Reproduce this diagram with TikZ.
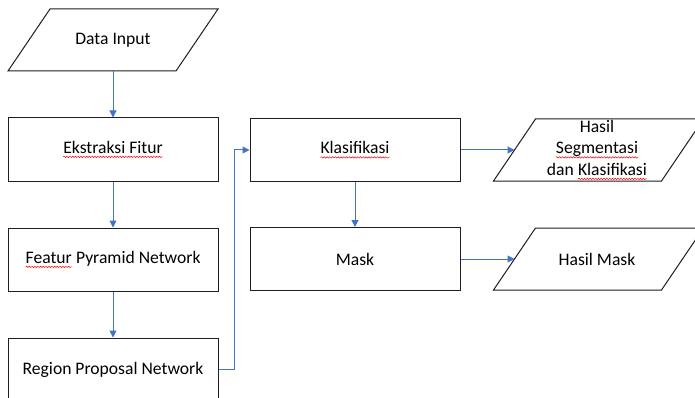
\documentclass[tikz,border=0pt]{standalone}
\usepackage{fontspec}
\setmainfont{Carlito}
\usetikzlibrary{arrows.meta,decorations.pathmorphing}
\tikzset{wordnode/.style={shape=rectangle,inner sep=0pt,outer sep=0pt,minimum width=0pt,minimum height=0pt,draw=none,fill=none,align=left}}
\newcommand\redwave[1]{\tikz[baseline=(w.base)]{\node[wordnode] (w) {#1};\draw[red,line width=0.5pt,decorate,decoration={snake,amplitude=0.7pt,segment length=2.8pt}] ([yshift=-3.5pt]w.base west) -- ([yshift=-3.5pt]w.base east);}}
\tikzset{
  txt/.style={font=\fontsize{17.6}{21.5}\selectfont,inner sep=0pt,align=center},
  procbox/.style={txt,draw={rgb,255:red,30;green,30;blue,30},line width=1pt,minimum width=210pt,minimum height=63pt,fill=white},
  ioline/.style={draw={rgb,255:red,30;green,30;blue,30},line width=1pt,line join=miter},
  arr/.style={draw={rgb,255:red,68;green,114;blue,196},line width=1pt,-{Triangle[length=7pt,width=7pt]}}
}
% parallelogram: name, centre x, centre y
\newcommand\ioshape[3]{%
  \draw[ioline] (#2-105,#3+31) -- (#2-63,#3-31) -- (#2+105,#3-31) -- (#2+63,#3+31) -- cycle;
  \coordinate (#1L) at (#2-84,#3);
  \coordinate (#1B) at (#2,#3+31);
}
\begin{document}
\begin{tikzpicture}[x=1pt,y=-1pt]
\useasboundingbox (0,0) rectangle (695,398);
\clip (0,0) rectangle (695,398);
\fill[white] (0,0) rectangle (695,398);
\ioshape{di}{113}{40}
\node[txt] (di) at (113,40) {Data Input};
\node[procbox] (ek) at (113,149.5) {\redwave{Ekstraksi Fitur}};
\node[procbox] (fp) at (113,259.5) {\redwave{Featur} Pyramid Network};
\node[procbox] (rp) at (113,369.5) {Region Proposal Network};
\node[procbox] (kl) at (355,150) {\redwave{Klasifikasi}};
\node[procbox] (mk) at (355,259) {Mask};
\ioshape{hs}{598.5}{150}
\node[txt] (hs) at (597,150) {Hasil\\\redwave{Segmentasi}\\dan \redwave{Klasifikasi}};
\ioshape{hm}{598.5}{259}
\node[txt] (hm) at (597,259) {Hasil Mask};
\draw[arr] (diB) -- (ek.north);
\draw[arr] (ek.south) -- (fp.north);
\draw[arr] (fp.south) -- (rp.north);
\draw[arr] (rp.east) -- ++(16,0) |- (kl.west);
\draw[arr] (kl.south) -- (mk.north);
\draw[arr] (kl.east) -- (hsL);
\draw[arr] (mk.east) -- (hmL);
\end{tikzpicture}
\end{document}
